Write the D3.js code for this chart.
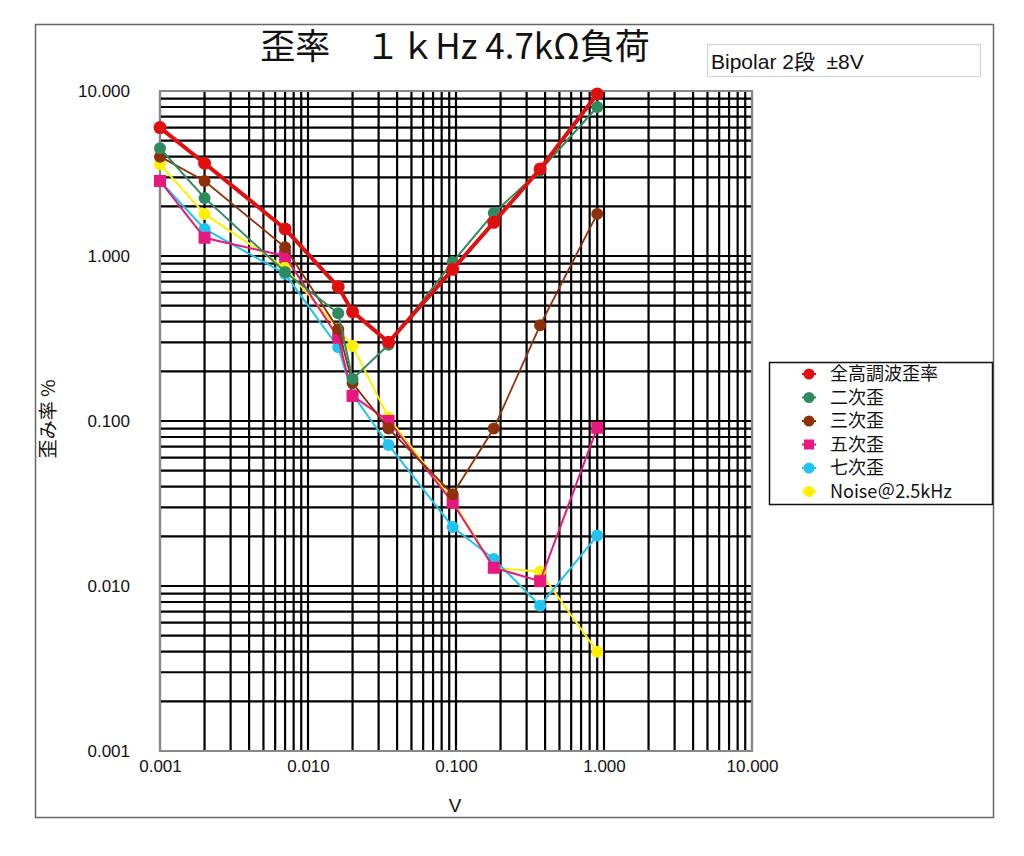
<!DOCTYPE html>
<html lang="ja">
<head>
<meta charset="UTF-8">
<title>歪率</title>
<style>
  body { margin: 0; background: #fff; }
  svg text { font-family: "Liberation Sans", Arial, "Noto Sans CJK JP", sans-serif; fill: #111; white-space: pre; }
  .jp { font-family: "Noto Sans CJK JP", sans-serif; }
</style>
</head>
<body>
<div id="chart"></div>
<script src="https://d3js.org/d3.v7.min.js"></script>
<script>
// data (x = output V, y = distortion %)
var volts = [0.001, 0.002, 0.007, 0.016, 0.02, 0.035, 0.095, 0.18, 0.37, 0.9];
var thd   = [6.0, 3.65, 1.46, 0.65, 0.46, 0.30, 0.83, 1.6, 3.37, 9.6];
var h2    = [4.5, 2.25, 0.80, 0.45, 0.18, 0.29, 0.92, 1.82, 3.3, 8.0];
var h3    = [4.0, 2.85, 1.13, 0.36, 0.17, 0.09, 0.036, 0.09, 0.38, 1.8];
var h5    = [2.85, 1.29, 1.0, 0.32, 0.142, 0.10, 0.032, 0.0129, 0.0107, 0.091];
var h7    = [2.85, 1.46, 0.78, 0.28, 0.145, 0.0716, 0.0228, 0.0146, 0.0076, 0.0202];
var noise = [3.6, 1.8, 0.85, 0.36, 0.285, 0.105, 0.033, 0.0129, 0.0122, 0.0040];

var seriesNames = ["全高調波歪率", "二次歪", "三次歪", "五次歪", "七次歪", "Noise＠2.5kHz"];
var xTickLabels = ["0.001", "0.010", "0.100", "1.000", "10.000"];
var yTickLabels = ["10.000", "1.000", "0.100", "0.010", "0.001"];

var series = [
  { name: seriesNames[0], values: thd,   color: "#e01010", width: 4,   r: 6.5, shape: "circle" },
  { name: seriesNames[1], values: h2,    color: "#2e8b5f", width: 2,   r: 6,   shape: "circle" },
  { name: seriesNames[2], values: h3,    color: "#8e3108", width: 1.8, r: 6,   shape: "circle" },
  { name: seriesNames[3], values: h5,    color: "#e8187f", width: 2,   r: 6,   shape: "square" },
  { name: seriesNames[4], values: h7,    color: "#20c4ee", width: 2,   r: 6,   shape: "circle" },
  { name: seriesNames[5], values: noise, color: "#fff000", width: 2,   r: 6,   shape: "circle" }
];

var W = 1024, H = 856;
var plot = { left: 160, top: 91, right: 752, bottom: 751 };

var svg = d3.select("#chart").append("svg")
  .attr("width", W).attr("height", H);

// outer frame
svg.append("rect")
  .attr("x", 35.5).attr("y", 24.5).attr("width", 958).attr("height", 793)
  .attr("fill", "none").attr("stroke", "#666").attr("stroke-width", 1.5);

// title
svg.append("text").attr("class", "jp")
  .attr("x", 455).attr("y", 59)
  .attr("text-anchor", "middle")
  .style("font-size", "35px")
  .text("歪率　１ｋHz 4.7kΩ負荷");

// subtitle box
svg.append("rect")
  .attr("x", 707.5).attr("y", 44.5).attr("width", 273).attr("height", 32)
  .attr("fill", "#fff").attr("stroke", "#d4d4d4").attr("stroke-width", 1.2);
svg.append("text")
  .attr("x", 711).attr("y", 69)
  .style("font-size", "21px")
  .text("Bipolar 2段  ±8V");

var x = d3.scaleLog().domain([0.001, 10]).range([plot.left, plot.right]);
var y = d3.scaleLog().domain([0.001, 10]).range([plot.bottom, plot.top]);

// grid: 1..9 of each decade
var grid = svg.append("g");
grid.selectAll("line.v")
  .data(x.ticks())
  .enter().append("line")
  .attr("x1", function (d) { return x(d); }).attr("x2", function (d) { return x(d); })
  .attr("y1", plot.top).attr("y2", plot.bottom)
  .attr("stroke", "#000").attr("stroke-width", 2.2);
grid.selectAll("line.h")
  .data(y.ticks())
  .enter().append("line")
  .attr("y1", function (d) { return y(d); }).attr("y2", function (d) { return y(d); })
  .attr("x1", plot.left).attr("x2", plot.right)
  .attr("stroke", "#000").attr("stroke-width", 2.2);

svg.append("rect")
  .attr("x", plot.left).attr("y", plot.top)
  .attr("width", plot.right - plot.left).attr("height", plot.bottom - plot.top)
  .attr("fill", "none").attr("stroke", "#888").attr("stroke-width", 2);

// axes (labels only)
var xDecades = [0.001, 0.01, 0.1, 1, 10];
var xAxis = svg.append("g")
  .attr("transform", "translate(0," + (plot.bottom + 6) + ")")
  .call(d3.axisBottom(x).tickValues(xDecades).tickSize(0)
    .tickFormat(function (d, i) { return xTickLabels[i]; }));
xAxis.select(".domain").remove();
xAxis.selectAll("text").style("font-size", "17px").attr("fill", "#111");

var yDecades = [10, 1, 0.1, 0.01, 0.001];
var yAxis = svg.append("g")
  .attr("transform", "translate(" + (plot.left - 27) + ",0)")
  .call(d3.axisLeft(y).tickValues(yDecades).tickSize(0)
    .tickFormat(function (d, i) { return yTickLabels[i]; }));
yAxis.select(".domain").remove();
yAxis.selectAll("text").style("font-size", "17px").attr("fill", "#111");

svg.append("text")
  .attr("x", 455).attr("y", 812)
  .attr("text-anchor", "middle")
  .style("font-size", "19px")
  .text("V");

svg.append("text").attr("class", "jp")
  .attr("transform", "translate(55,419) rotate(-90)")
  .attr("text-anchor", "middle")
  .style("font-size", "19px")
  .text("歪み率 %");

// series, drawn bottom-up so red ends on top
var line = d3.line()
  .x(function (d) { return x(d.v); })
  .y(function (d) { return y(d.p); });

series.slice().reverse().forEach(function (s) {
  var pts = volts.map(function (v, i) { return { v: v, p: s.values[i] }; });
  var g = svg.append("g");
  g.append("path")
    .datum(pts)
    .attr("d", line)
    .attr("fill", "none")
    .attr("stroke", s.color)
    .attr("stroke-width", s.width);
  if (s.shape === "square") {
    g.selectAll("rect")
      .data(pts).enter().append("rect")
      .attr("x", function (d) { return x(d.v) - s.r; })
      .attr("y", function (d) { return y(d.p) - s.r; })
      .attr("width", s.r * 2).attr("height", s.r * 2)
      .attr("fill", s.color);
  } else {
    g.selectAll("circle")
      .data(pts).enter().append("circle")
      .attr("cx", function (d) { return x(d.v); })
      .attr("cy", function (d) { return y(d.p); })
      .attr("r", s.r)
      .attr("fill", s.color);
  }
});

// legend
var legend = svg.append("g");
legend.append("rect")
  .attr("x", 769.5).attr("y", 362.5).attr("width", 223).attr("height", 142)
  .attr("fill", "#fff").attr("stroke", "#111").attr("stroke-width", 1.5);

series.forEach(function (s, i) {
  var cy = 374 + i * 23.5;
  var row = legend.append("g");
  row.append("line")
    .attr("x1", 802).attr("x2", 816).attr("y1", cy).attr("y2", cy)
    .attr("stroke", s.color).attr("stroke-width", 2);
  if (s.shape === "square") {
    row.append("rect")
      .attr("x", 804).attr("y", cy - 5).attr("width", 10).attr("height", 10)
      .attr("fill", s.color);
  } else {
    row.append("circle")
      .attr("cx", 809).attr("cy", cy).attr("r", 5.5)
      .attr("fill", s.color);
  }
  row.append("text").attr("class", "jp")
    .attr("x", 830).attr("y", cy + 6)
    .style("font-size", "18px")
    .text(s.name);
});
</script>
</body>
</html>
